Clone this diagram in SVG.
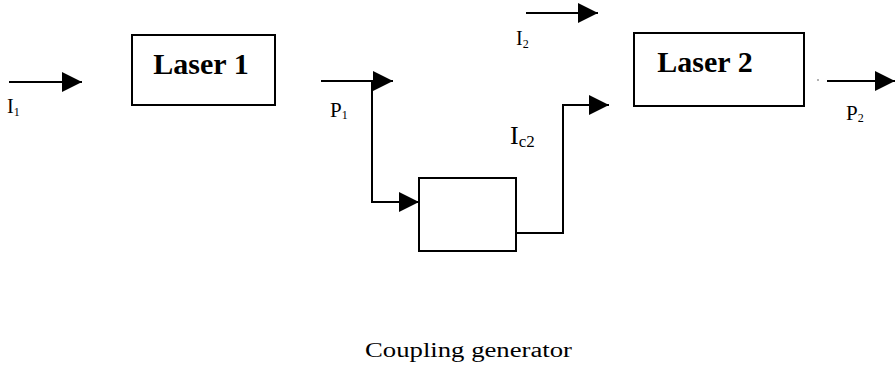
<svg xmlns="http://www.w3.org/2000/svg" width="895" height="370" viewBox="0 0 895 370">
<style>
.box{fill:none;stroke:#000;stroke-width:2}
.ln{fill:none;stroke:#000;stroke-width:2}
.title{font-family:"Liberation Serif",serif;font-weight:bold;font-size:30px;fill:#000}
.lbl{font-family:"Liberation Serif",serif;fill:#000}
</style>
<defs>
<marker id="ah" markerUnits="userSpaceOnUse" markerWidth="21" markerHeight="21" refX="20" refY="10" orient="auto" viewBox="0 0 21 21">
<path d="M0,0 L20,10 L0,20 Z" fill="#000"/>
</marker>
</defs>
<rect width="895" height="370" fill="#fff"/>
<g id="laser1">
<rect class="box" x="132" y="35" width="143" height="70"/>
<text class="title" x="201" y="74" text-anchor="middle">Laser 1</text>
</g>
<g id="laser2">
<rect class="box" x="634" y="33" width="170" height="73"/>
<text class="title" x="705" y="72" text-anchor="middle">Laser 2</text>
</g>
<g id="coupling">
<rect class="box" x="419" y="178" width="97" height="73"/>
</g>
<g id="caption">
<text class="lbl" x="365" y="357" font-size="20" textLength="207" lengthAdjust="spacingAndGlyphs">Coupling generator</text>
</g>
<g id="connectors">
<path class="ln" d="M9,82 H82" marker-end="url(#ah)"/>
<path class="ln" d="M526,13 H598" marker-end="url(#ah)"/>
<path class="ln" d="M321,81 H393" marker-end="url(#ah)"/>
<path class="ln" d="M372,81 V202 H419" marker-end="url(#ah)"/>
<path class="ln" d="M516,233 H563 V105 H609" marker-end="url(#ah)"/>
<path class="ln" d="M827,81 H895" marker-end="url(#ah)"/>
<circle cx="818" cy="80" r="1" fill="#999"/>
</g>
<g id="labels">
<text class="lbl" x="7" y="113" font-size="20">I<tspan font-size="12" dy="3">1</tspan></text>
<text class="lbl" x="516" y="45" font-size="20">I<tspan font-size="12" dy="3">2</tspan></text>
<text class="lbl" x="330" y="117" font-size="21">P<tspan font-size="12" dy="2">1</tspan></text>
<text class="lbl" x="510" y="144" font-size="26">I<tspan font-size="17" dy="3">c2</tspan></text>
<text class="lbl" x="846" y="120" font-size="21">P<tspan font-size="12" dy="2">2</tspan></text>
</g>
</svg>
